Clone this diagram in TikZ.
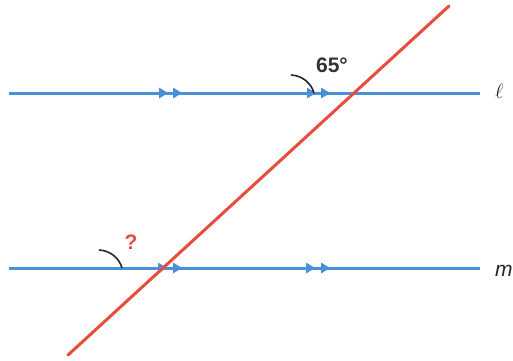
\documentclass[tikz,border=0pt]{standalone}
\usepackage{fontspec}
\setmainfont{Liberation Sans}
\definecolor{lineblue}{RGB}{74,144,217}
\definecolor{linered}{RGB}{231,76,60}
\definecolor{labelgray}{RGB}{51,51,51}
\tikzset{
  parline/.style={draw=lineblue, line width=3pt},
  transline/.style={draw=linered, line width=3pt},
  anglearc/.style={draw=black!85, line width=1.6pt},
  tri/.pic={\fill[lineblue] (0,-5.5) -- (9,0) -- (0,5.5) -- cycle;},
  lbl/.style={anchor=base, inner sep=0pt, font=\fontsize{21}{24}\selectfont\bfseries},
  linename/.style={anchor=base west, inner sep=0pt, text=black!85, font=\fontsize{21}{24}\selectfont}
}
\begin{document}
\begin{tikzpicture}[x=1pt,y=-1pt]
\useasboundingbox (0,0) rectangle (513,360);
% parallel lines
\coordinate (l0) at (9,93);
\coordinate (l1) at (480,93);
\coordinate (m0) at (9,268);
\coordinate (m1) at (480,268);
\draw[parline] (l0) -- (l1);
\draw[parline] (m0) -- (m1);
% arrowheads on parallel lines
\pic at (159,93) {tri};
\pic at (173,93) {tri};
\pic at (307,93) {tri};
\pic at (321,93) {tri};
\pic at (158,268) {tri};
\pic at (173,268) {tri};
\pic at (306,268) {tri};
\pic at (321,268) {tri};
% transversal
\coordinate (t0) at (68,355);
\coordinate (t1) at (449,6);
\draw[transline, line cap=round] (t0) -- (t1);
% angle arcs
\draw[anglearc] (290.9,75) arc[start angle=-88, end angle=-16, radius=25];
\draw[anglearc] (98.9,250) arc[start angle=-88, end angle=-16, radius=25];
% labels
\node[lbl, text=labelgray] (a65) at (332,72) {65°};
\node[lbl, text=linered] (q) at (131,249) {?};
\node[linename] (lname) at (495,98) {$\ell$};
\node[linename] (mname) at (495,276) {\itshape m};
\end{tikzpicture}
\end{document}
